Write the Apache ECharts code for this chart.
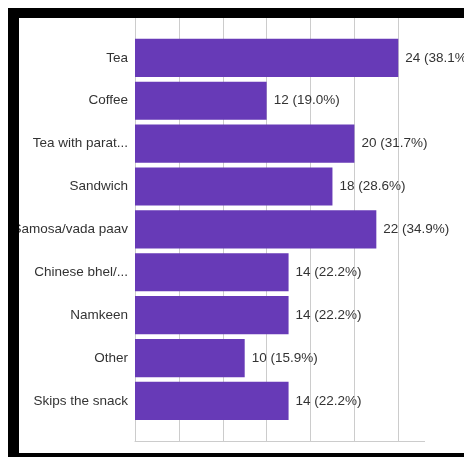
<!DOCTYPE html>
<html>
<head>
<meta charset="utf-8">
<script src="https://cdn.jsdelivr.net/npm/echarts@6/dist/echarts.min.js"></script>
<style>
  html, body { margin: 0; padding: 0; background: #fff; }
  #wrap { position: relative; width: 464px; height: 457px; overflow: hidden; }
  #chart { position: absolute; left: 0; top: 0; width: 464px; height: 457px; }
  /* dark frame around the panel */
  .frame { position: absolute; background: #000; pointer-events: none; }
</style>
</head>
<body>
<div id="wrap">
  <div id="chart"></div>
  <div class="frame" style="left:8px; top:8px; width:456px; height:10px;"></div>
  <div class="frame" style="left:8px; top:8px; width:11px; height:449px;"></div>
  <div class="frame" style="left:8px; top:453px; width:456px; height:4px;"></div>
</div>
<script>
// Snack preferences, number of responses per option
const categories = [
  'Tea', 'Coffee', 'Tea with parat...', 'Sandwich', 'Samosa/vada paav',
  'Chinese bhel/...', 'Namkeen', 'Other', 'Skips the snack'
];
const counts = [24, 12, 20, 18, 22, 14, 14, 10, 14];
const percents = ['38.1', '19.0', '31.7', '28.6', '34.9', '22.2', '22.2', '15.9', '22.2'];

const axisMax = 26.4;
const tickStep = 4;
const gridColor = '#cccccc';
const barColor = '#673ab7';
const font = 'Arial, "Liberation Sans", Helvetica, sans-serif';

const chart = echarts.init(document.getElementById('chart'), null, { renderer: 'canvas' });

chart.setOption({
  animation: false,
  grid: [
    // full-height frame carrying the vertical gridlines and the baseline
    { left: 135, width: 289.6, top: 17, height: 424.5, containLabel: false },
    // band area where the bars sit
    { left: 135, width: 289.6, top: 36.4, height: 386, containLabel: false }
  ],
  xAxis: [
    {
      gridIndex: 0, type: 'value', min: 0, max: axisMax, interval: tickStep,
      axisLine: { show: true, lineStyle: { color: gridColor, width: 1 } },
      axisTick: { show: false },
      axisLabel: { show: false },
      splitLine: { show: true, showMinLine: true, showMaxLine: false, lineStyle: { color: gridColor, width: 1 } }
    },
    {
      gridIndex: 1, type: 'value', min: 0, max: axisMax, interval: tickStep,
      axisLine: { show: false }, axisTick: { show: false },
      axisLabel: { show: false }, splitLine: { show: false }
    }
  ],
  yAxis: [
    {
      gridIndex: 0, type: 'value', min: 0, max: 1, show: false,
      splitLine: { show: false }
    },
    {
      gridIndex: 1, type: 'category', data: categories, inverse: true,
      axisLine: { show: false }, axisTick: { show: false },
      axisLabel: { margin: 7, color: '#333', fontSize: 13.5, fontFamily: font }
    }
  ],
  series: [
    {
      type: 'bar', xAxisIndex: 1, yAxisIndex: 1,
      data: counts,
      barCategoryGap: '11%',
      itemStyle: { color: barColor },
      label: {
        show: true, position: 'right', distance: 7,
        color: '#333', fontSize: 13.5, fontFamily: font,
        formatter: p => p.value + ' (' + percents[p.dataIndex] + '%)'
      }
    }
  ]
});
</script>
</body>
</html>
